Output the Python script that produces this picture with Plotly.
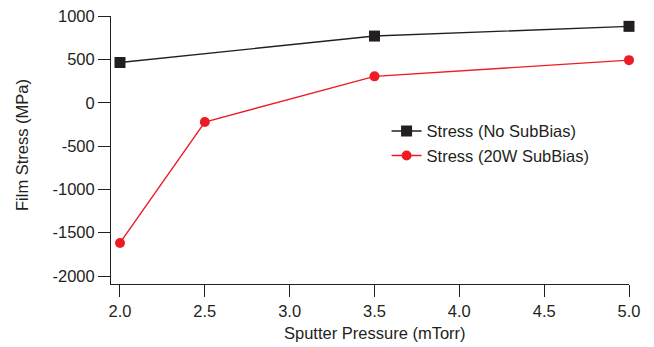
import plotly.graph_objects as go

x_black = [2.0, 3.5, 5.0]
y_black = [465, 770, 882]
x_red = [2.0, 2.5, 3.5, 5.0]
y_red = [-1618, -222, 305, 492]
x_ticks = [2.0, 2.5, 3.0, 3.5, 4.0, 4.5, 5.0]
x_ticklabels = ["2.0", "2.5", "3.0", "3.5", "4.0", "4.5", "5.0"]
y_ticks = [-2000, -1500, -1000, -500, 0, 500, 1000]
y_ticklabels = ["-2000", "-1500", "-1000", "-500", "0", "500", "1000"]
x_title = "Sputter Pressure (mTorr)"
y_title = "Film Stress (MPa)"

fig = go.Figure()
fig.add_trace(go.Scatter(x=x_black, y=y_black, mode="lines+markers",
                         name="Stress (No SubBias)",
                         line=dict(color="#231f20", width=1.4),
                         marker=dict(symbol="square", size=11, color="#231f20"),
                         cliponaxis=False))
fig.add_trace(go.Scatter(x=x_red, y=y_red, mode="lines+markers",
                         name="Stress (20W SubBias)",
                         line=dict(color="#ed1c24", width=1.4),
                         marker=dict(symbol="circle", size=10, color="#ed1c24"),
                         cliponaxis=False))

font = dict(family="Liberation Sans, Arial, sans-serif", size=16.5, color="#231f20")
# page body has an 8px default margin; figure sized to fit the window
fig.update_layout(
    width=646, height=339,
    margin=dict(l=103, r=25, t=8, b=63),
    paper_bgcolor="white", plot_bgcolor="white",
    font=font,
    legend=dict(x=0.532, y=0.635, xanchor="left", yanchor="top",
                bgcolor="rgba(0,0,0,0)", font=font, tracegroupgap=0,
                itemwidth=30),
    xaxis=dict(range=[1.947, 5.0], tickvals=x_ticks, ticktext=x_ticklabels,
               automargin=False, ticklabeloverflow="allow",
               showgrid=False, zeroline=False, showline=True, linecolor="#231f20",
               linewidth=1, ticks="outside", ticklen=12, tickcolor="#231f20"),
    yaxis=dict(range=[-2092, 1001.5], tickvals=y_ticks, ticktext=y_ticklabels,
               automargin=False, ticklabeloverflow="allow",
               showgrid=False, zeroline=False, showline=True, linecolor="#231f20",
               linewidth=1, ticks="outside", ticklen=12, tickcolor="#231f20"),
    annotations=[
        dict(text=x_title, xref="paper", yref="paper", x=0.5106, y=-0.183,
             xanchor="center", yanchor="middle", showarrow=False, font=font),
        dict(text=y_title, xref="paper", yref="paper", x=-0.1708, y=0.517,
             xanchor="center", yanchor="middle", showarrow=False, font=font,
             textangle=-90),
    ],
)
fig.write_html("out.html")
